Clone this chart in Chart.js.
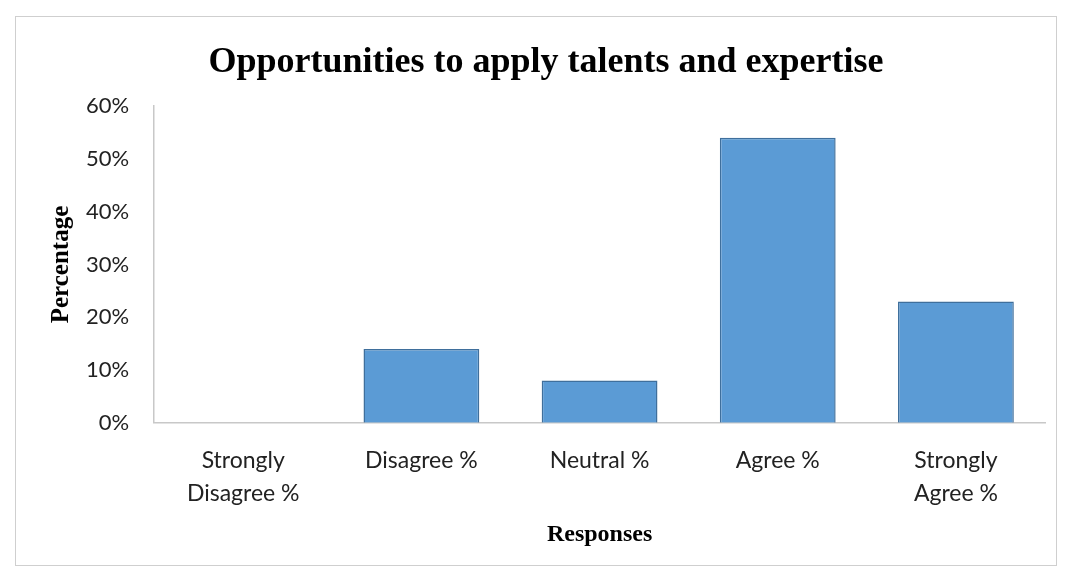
<!DOCTYPE html>
<html>
<head>
<meta charset="utf-8">
<script src="https://cdn.jsdelivr.net/npm/chart.js@4"></script>
<style>
    html, body { margin: 0; padding: 0; background: #fff; }
    #wrap { position: relative; width: 1067px; height: 578px; }
    #frame { position: absolute; left: 15px; top: 16px; width: 1040px; height: 548px; border: 1px solid #cfcfcf; }
    canvas { position: absolute; left: 0; top: 0; }
</style>
</head>
<body>
<div id="wrap">
    <div id="frame"></div>
    <canvas id="chart" width="1067" height="578"></canvas>
</div>
<script>
    // Chart data
    var categories = [
        ['Strongly', 'Disagree %'],
        'Disagree %',
        'Neutral %',
        'Agree %',
        ['Strongly', 'Agree %']
    ];
    var percentages = [0, 14, 8, 54, 23];
    var yTicks = [0, 10, 20, 30, 40, 50, 60];

    var serif = '"Liberation Serif", "Times New Roman", serif';
    var sans = 'Lato, "Open Sans", sans-serif';

    new Chart(document.getElementById('chart'), {
        type: 'bar',
        data: {
            labels: categories,
            datasets: [{
                label: 'Percentage',
                data: percentages,
                backgroundColor: '#5b9bd5',
                borderColor: '#3f6f9c',
                borderWidth: 1.5,
                barPercentage: 0.65,
                categoryPercentage: 1
            }]
        },
        options: {
            responsive: false,
            animation: false,
            layout: {
                padding: { left: 47, right: 22, top: 41, bottom: 29 }
            },
            plugins: {
                legend: { display: false },
                tooltip: { enabled: false },
                title: {
                    display: true,
                    text: 'Opportunities to apply talents and expertise',
                    color: '#000',
                    font: { family: serif, size: 36, weight: 'bold' },
                    padding: { top: 0, bottom: 22 }
                }
            },
            scales: {
                x: {
                    grid: { display: false, drawTicks: false },
                    border: { display: true, color: '#c8c8c8', width: 1.5 },
                    ticks: {
                        color: '#222',
                        font: { family: sans, size: 23, lineHeight: 1.4 },
                        padding: 22,
                        maxRotation: 0,
                        autoSkip: false
                    },
                    title: {
                        display: true,
                        text: 'Responses',
                        color: '#000',
                        font: { family: serif, size: 24, weight: 'bold' },
                        // chart.js counts tick padding twice when sizing the axis
                        padding: { top: -11, bottom: 0 }
                    }
                },
                y: {
                    min: yTicks[0],
                    max: yTicks[yTicks.length - 1],
                    grid: { display: false, drawTicks: false },
                    border: { display: true, color: '#c8c8c8', width: 1.5 },
                    afterBuildTicks: function(axis) {
                        axis.ticks = yTicks.map(function(v) { return { value: v }; });
                    },
                    ticks: {
                        color: '#222',
                        font: { family: sans, size: 22 },
                        padding: 25,
                        callback: function(value) { return value + '%'; }
                    },
                    title: {
                        display: true,
                        text: 'Percentage',
                        color: '#000',
                        font: { family: serif, size: 25, weight: 'bold' },
                        padding: { top: 0, bottom: -16 }
                    }
                }
            }
        }
    });
</script>
</body>
</html>
